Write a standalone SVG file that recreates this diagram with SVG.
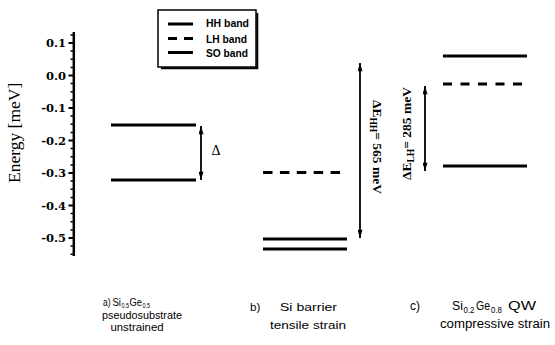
<svg xmlns="http://www.w3.org/2000/svg" width="555" height="345" viewBox="0 0 555 345">
  <style>
    .lvl { stroke: #000; stroke-width: 3; fill: none; }
    .dash { stroke-dasharray: 9.5 7.4; }
    .axis { stroke: #000; fill: none; }
    .arr { stroke: #000; stroke-width: 1.8; fill: none; marker-start: url(#tip); marker-end: url(#tip); }
    .tick { font-family: "DejaVu Serif", "Liberation Serif", serif; font-weight: bold; font-size: 11.5px; text-anchor: end; fill: #000; }
    .ylab { font-family: "Liberation Serif", "Times New Roman", serif; font-size: 17.5px; fill: #000; }
    .leg { font-family: "Liberation Sans", Arial, sans-serif; font-weight: bold; font-size: 10px; fill: #000; }
    .cap { font-family: "Liberation Sans", Arial, sans-serif; fill: #000; }
    .dl { font-family: "Liberation Serif", "Times New Roman", serif; font-weight: bold; font-size: 13.5px; fill: #000; }
  </style>
  <defs>
    <marker id="tip" viewBox="0 0 10 6" refX="10" refY="3" markerWidth="9" markerHeight="5" markerUnits="userSpaceOnUse" orient="auto-start-reverse">
      <path d="M0,0 L10,3 L0,6 Z" fill="#000"/>
    </marker>
  </defs>

  <rect width="555" height="345" fill="#fff"/>

  <!-- energy axis -->
  <g id="axis">
    <line class="axis" x1="73.8" y1="32" x2="73.8" y2="256" stroke-width="2.5"/>
    <path class="axis" stroke-width="1.8" d="M68.5 43H74M68.5 75.5H74M68.5 108H74M68.5 140.5H74M68.5 173H74M68.5 205.5H74M68.5 238H74"/>
    <path class="axis" stroke-width="1.5" d="M70.5 34.9H74M70.5 51.1H74M70.5 59.3H74M70.5 67.4H74M70.5 83.6H74M70.5 91.8H74M70.5 99.9H74M70.5 116.1H74M70.5 124.3H74M70.5 132.4H74M70.5 148.6H74M70.5 156.8H74M70.5 164.9H74M70.5 181.1H74M70.5 189.3H74M70.5 197.4H74M70.5 213.6H74M70.5 221.8H74M70.5 229.9H74M70.5 246.1H74M70.5 254.3H74"/>
    <text class="tick" x="66" y="47">0.1</text>
    <text class="tick" x="66" y="79.5">0.0</text>
    <text class="tick" x="66" y="112">-0.1</text>
    <text class="tick" x="66" y="144.5">-0.2</text>
    <text class="tick" x="66" y="177">-0.3</text>
    <text class="tick" x="66" y="209.5">-0.4</text>
    <text class="tick" x="66" y="242">-0.5</text>
    <text class="ylab" transform="translate(20,183) rotate(-90)">Energy [meV]</text>
  </g>

  <!-- legend -->
  <g id="legend">
    <rect x="158" y="10" width="98" height="57" fill="#fff" stroke="#000" stroke-width="1.5"/>
    <path d="M161 68.3H257.3V13" fill="none" stroke="#000" stroke-width="2"/>
    <line class="lvl" x1="168" y1="24" x2="193" y2="24"/>
    <line class="lvl" x1="168" y1="38.5" x2="193" y2="38.5" stroke-dasharray="9 7"/>
    <line class="lvl" x1="168" y1="52.5" x2="193" y2="52.5" stroke-width="2.2"/>
    <text class="leg" x="206" y="27" textLength="43" lengthAdjust="spacingAndGlyphs">HH band</text>
    <text class="leg" x="206" y="42.5" textLength="41" lengthAdjust="spacingAndGlyphs">LH band</text>
    <text class="leg" x="206" y="57" textLength="42" lengthAdjust="spacingAndGlyphs">SO band</text>
  </g>

  <!-- a) relaxed SiGe: HH/LH degenerate, split-off below -->
  <g id="panel-a">
    <line class="lvl" x1="111" y1="125" x2="196" y2="125"/>
    <line class="lvl" x1="111" y1="180" x2="196" y2="180"/>
    <text x="211.5" y="155" font-family="Liberation Serif, serif" font-size="14">Δ</text>
    <text class="cap" font-size="10.5" x="103" y="305.5" textLength="7.5" lengthAdjust="spacingAndGlyphs">a)</text>
    <text class="cap" font-size="10.5" y="305.5"><tspan x="112.5" textLength="8.5" lengthAdjust="spacingAndGlyphs">Si</tspan><tspan x="121.5" dy="2" font-size="6.5" textLength="7.5" lengthAdjust="spacingAndGlyphs">0.5</tspan><tspan x="129.5" dy="-2" textLength="12.5" lengthAdjust="spacingAndGlyphs">Ge</tspan><tspan x="142.5" dy="2" font-size="6.5" textLength="7.5" lengthAdjust="spacingAndGlyphs">0.5</tspan></text>
    <text class="cap" font-size="10.8" x="102" y="319" textLength="80" lengthAdjust="spacingAndGlyphs">pseudosubstrate</text>
    <text class="cap" font-size="10.8" x="110.5" y="331" textLength="53" lengthAdjust="spacingAndGlyphs">unstrained</text>
  </g>

  <!-- b) Si barrier under tensile strain -->
  <g id="panel-b">
    <line class="lvl dash" x1="263" y1="172.5" x2="340" y2="172.5"/>
    <line class="lvl" x1="263" y1="239" x2="347" y2="239" stroke-width="3.4"/>
    <line class="lvl" x1="263" y1="249" x2="347" y2="249" stroke-width="2.6"/>
    <text class="cap" font-size="11.5" x="250" y="310.5">b)</text>
    <text class="cap" font-size="11.5" x="280" y="310.5" textLength="57" lengthAdjust="spacingAndGlyphs">Si barrier</text>
    <text class="cap" font-size="11.5" x="270" y="328.5" textLength="76" lengthAdjust="spacingAndGlyphs">tensile strain</text>
  </g>

  <!-- c) SiGe quantum well under compressive strain -->
  <g id="panel-c">
    <line class="lvl" x1="443" y1="56" x2="527" y2="56"/>
    <line class="lvl" x1="443" y1="84" x2="522" y2="84" stroke-dasharray="9 8.5"/>
    <line class="lvl" x1="443" y1="166" x2="527" y2="166"/>
    <text class="cap" font-size="12" x="410" y="310">c)</text>
    <text class="cap" font-size="12" y="310"><tspan x="452" textLength="11" lengthAdjust="spacingAndGlyphs">Si</tspan><tspan x="463.5" dy="2.5" font-size="8.5" textLength="11" lengthAdjust="spacingAndGlyphs">0.2</tspan><tspan x="476" dy="-2.5" textLength="14" lengthAdjust="spacingAndGlyphs">Ge</tspan><tspan x="491" dy="2.5" font-size="8.5" textLength="11" lengthAdjust="spacingAndGlyphs">0.8</tspan><tspan x="508" dy="-2.5" textLength="28" lengthAdjust="spacingAndGlyphs">QW</tspan></text>
    <text class="cap" font-size="12" x="440" y="328" textLength="110" lengthAdjust="spacingAndGlyphs">compressive strain</text>
  </g>

  <!-- energy separations -->
  <g id="connectors">
    <line class="arr" x1="201" y1="126" x2="201" y2="180" stroke-width="1.5"/>
    <line class="arr" x1="360" y1="63" x2="360" y2="238"/>
    <line class="arr" x1="425" y1="86" x2="425" y2="171"/>
    <text class="dl" transform="translate(373,100) rotate(90)">ΔE<tspan dy="3" font-size="9.5">HH</tspan><tspan dy="-3">= 565 meV</tspan></text>
    <text class="dl" transform="translate(410.5,180) rotate(-90)">ΔE<tspan dy="3" font-size="9.5">LH</tspan><tspan dy="-3">= 285 meV</tspan></text>
  </g>
</svg>
